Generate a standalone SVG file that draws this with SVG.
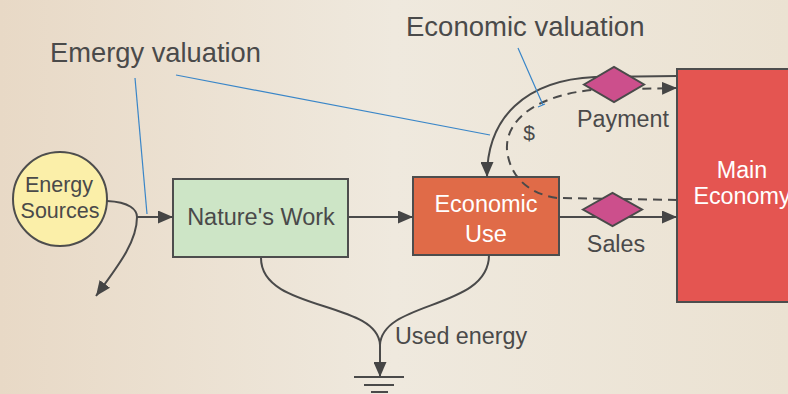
<svg xmlns="http://www.w3.org/2000/svg" width="788" height="394" viewBox="0 0 788 394">
<defs>
<linearGradient id="bg" x1="0" y1="0" x2="1" y2="0">
<stop offset="0" stop-color="#e8d9c6"/>
<stop offset="0.5" stop-color="#efe9de"/>
<stop offset="1" stop-color="#ebe2d2"/>
</linearGradient>
<marker id="ah" markerUnits="userSpaceOnUse" markerWidth="15" markerHeight="13" refX="15" refY="6.5" orient="auto">
<path d="M0,0 L15,6.5 L0,13 z" fill="#454545"/>
</marker>
<style>
text{font-family:"Liberation Sans",Arial,sans-serif;fill:#4a4a4a}
.w{fill:#ffffff}
.ln{fill:none;stroke:#4a4a4a;stroke-width:2}
.ds{fill:none;stroke:#4a4a4a;stroke-width:2;stroke-dasharray:9,6}
.bl{fill:none;stroke:#3a86c8;stroke-width:1.2}
.box{stroke:#4d4d4d;stroke-width:2}
.dia{fill:#cc4f8c;stroke:#4a4a4a;stroke-width:2}
</style>
</defs>
<rect width="788" height="394" fill="url(#bg)"/>

<g id="energy-sources">
<circle cx="60" cy="199" r="47" fill="#fbefa9" stroke="#4d4d4d" stroke-width="2"/>
<text x="59" y="192" font-size="21.5" text-anchor="middle">Energy</text>
<text x="60" y="218" font-size="21.5" text-anchor="middle">Sources</text>
</g>

<g id="natures-work">
<rect class="box" x="173" y="179" width="175" height="78" fill="#cde5c6"/>
<text x="261" y="225" font-size="23.5" text-anchor="middle">Nature's Work</text>
</g>

<g id="economic-use">
<rect class="box" x="413" y="177" width="146" height="78" fill="#e06b48"/>
<text class="w" x="486" y="212" font-size="23.5" text-anchor="middle">Economic</text>
<text class="w" x="486" y="242" font-size="23.5" text-anchor="middle">Use</text>
</g>

<g id="main-economy">
<rect class="box" x="677" y="69" width="140" height="233" fill="#e45551"/>
<text class="w" x="742" y="178" font-size="23.3" text-anchor="middle">Main</text>
<text class="w" x="742" y="204" font-size="23.3" text-anchor="middle">Economy</text>
</g>

<g id="connectors">
<path class="ln" d="M107,201 C130,202 137,210 137,217 L173,217" marker-end="url(#ah)"/>
<path class="ln" d="M137,217 C137,242 118,266 96,296" marker-end="url(#ah)"/>
<path class="ln" d="M348,217 L413,217" marker-end="url(#ah)"/>
<path class="ln" d="M559,217 L677,217" marker-end="url(#ah)"/>
<path class="ln" d="M677,76 L595,77 C525,80 487,118 487,177" marker-end="url(#ah)"/>
<path class="ds" d="M677,200 L557,198 C530,194 510,178 507,150 C505,118 540,95 592,90 L677,88" marker-end="url(#ah)"/>
<path class="ln" d="M261,258 C261,312 378,300 380,345"/>
<path class="ln" d="M489,255 C489,310 382,300 380,345 L380,377" marker-end="url(#ah)"/>
<path class="ln" d="M354,377 L404,377 M364,385 L394,385" stroke="#555"/>
<path class="ln" d="M371,392 L388,392" stroke="#555"/>
<path class="bl" d="M135,78 L147,214"/>
<path class="bl" d="M176,75 L490,135"/>
<path class="bl" d="M518,48 L543,105 M538,107 L545,104"/>
</g>

<g id="payment">
<polygon class="dia" points="584,84.5 614,67 644,84.5 614,102"/>
<text x="623" y="127" font-size="23.3" text-anchor="middle">Payment</text>
</g>

<g id="sales">
<polygon class="dia" points="583,209.5 612.5,193 642,209.5 612.5,226"/>
<text x="616" y="252" font-size="23.3" text-anchor="middle">Sales</text>
</g>

<g id="labels">
<text x="50" y="62" font-size="27.3">Emergy valuation</text>
<text x="406" y="36" font-size="27.5">Economic valuation</text>
<text x="529" y="140" font-size="21" text-anchor="middle">$</text>
<text x="395" y="344" font-size="23.3">Used energy</text>
</g>
</svg>
